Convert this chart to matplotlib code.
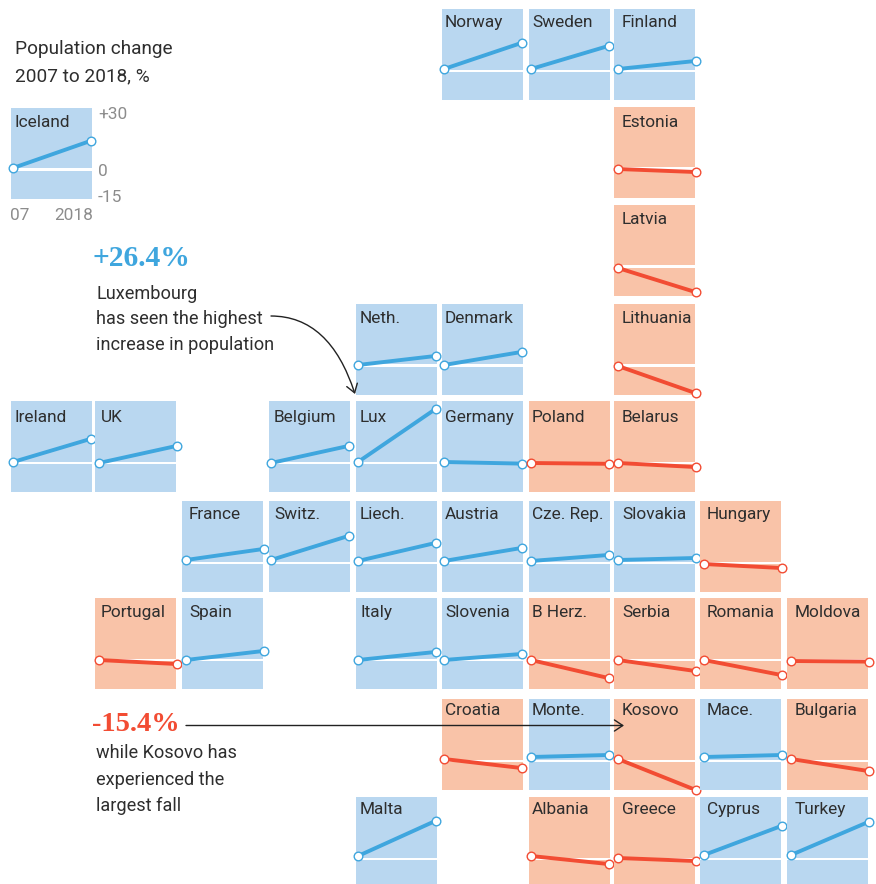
import matplotlib
matplotlib.use("Agg")
import matplotlib.pyplot as plt
from matplotlib.patches import FancyArrowPatch, Rectangle

# Population change 2007 to 2018, %
countries = ["Norway", "Sweden", "Finland", "Estonia", "Latvia", "Lithuania",
             "Neth.", "Denmark", "Ireland", "UK", "Belgium", "Lux", "Germany",
             "Poland", "Belarus", "France", "Switz.", "Liech.", "Austria",
             "Cze. Rep.", "Slovakia", "Hungary", "Portugal", "Spain", "Italy",
             "Slovenia", "B Herz.", "Serbia", "Romania", "Moldova", "Croatia",
             "Monte.", "Kosovo", "Mace.", "Bulgaria", "Malta", "Albania",
             "Greece", "Cyprus", "Turkey"]
change = [13.0, 11.5, 4.0, -1.5, -12.0, -13.5,
          4.5, 6.5, 11.5, 8.5, 8.5, 26.4, -0.8,
          -0.4, -2.0, 5.5, 12.0, 9.0, 6.5,
          3.0, 1.0, -2.0, -2.0, 4.5, 4.0,
          3.0, -9.0, -5.5, -7.5, -0.3, -4.5,
          1.0, -15.4, 1.0, -6.0, 17.5, -4.0,
          -1.5, 14.5, 16.5]
# Germany dips in the line but is still coloured as a riser in the original
falling = ["Estonia", "Latvia", "Lithuania", "Poland", "Belarus", "Hungary",
           "Portugal", "B Herz.", "Serbia", "Romania", "Moldova", "Croatia",
           "Kosovo", "Bulgaria", "Albania", "Greece"]
key_values = [0, 13.5]
years = [2007, 2018]

# layout: tile-grid position of each country
col_left = [11, 95, 182, 269, 356, 442, 529, 614, 700, 787]
row_top = [9, 107, 205, 304, 401, 501, 598, 699, 797]
col_line_dx = [2, 4, 4, 2, 2, 2, 2, 4, 4, 4]
col_label_dx = [4, 6, 7, 5, 4, 3, 3, 8, 7, 8]
row_zero_dy = [60, 62, 63, 62, 61, 59, 62, 60, 59]
row_baseline_dy = [18, 20, 19, 19, 21, 18, 19, 16, 17]
# tiles whose line starts a little off the rest of the row, px
zero_nudge = {"Hungary": 4, "Monte.": -2, "Mace.": -2, "Greece": 2, "Neth.": -1,
              "Denmark": -1, "Poland": 1, "Belarus": 1, "UK": 1, "Belgium": 1,
              "Moldova": 1, "Cze. Rep.": 1, "Liech.": 1, "Austria": 1,
              "Cyprus": -1, "Turkey": -1}
grid = {"Norway": (5, 0), "Sweden": (6, 0), "Finland": (7, 0),
        "Estonia": (7, 1), "Latvia": (7, 2), "Lithuania": (7, 3),
        "Neth.": (4, 3), "Denmark": (5, 3),
        "Ireland": (0, 4), "UK": (1, 4), "Belgium": (3, 4), "Lux": (4, 4),
        "Germany": (5, 4), "Poland": (6, 4), "Belarus": (7, 4),
        "France": (2, 5), "Switz.": (3, 5), "Liech.": (4, 5), "Austria": (5, 5),
        "Cze. Rep.": (6, 5), "Slovakia": (7, 5), "Hungary": (8, 5),
        "Portugal": (1, 6), "Spain": (2, 6), "Italy": (4, 6), "Slovenia": (5, 6),
        "B Herz.": (6, 6), "Serbia": (7, 6), "Romania": (8, 6), "Moldova": (9, 6),
        "Croatia": (5, 7), "Monte.": (6, 7), "Kosovo": (7, 7), "Mace.": (8, 7),
        "Bulgaria": (9, 7), "Malta": (4, 8), "Albania": (6, 8), "Greece": (7, 8),
        "Cyprus": (8, 8), "Turkey": (9, 8)}

W, H = 876, 884
CELL_W, CELL_H = 81, 91
LINE_SPAN = 78       # px between the two points of a tile
PX_PER_PCT = 2.02
BAND_TOP, BAND_H = 60.5, 2.3
BLUE, BLUE_BG = "#3fa6de", "#b9d7f0"
RED, RED_BG = "#f24c33", "#f9c3a8"
DARK, GREY = "#2e2e2e", "#8c8c8c"

plt.rcParams["font.family"] = ["Roboto", "DejaVu Sans"]

fig = plt.figure(figsize=(W / 100, H / 100), dpi=100)
bg = fig.add_axes([0, 0, 1, 1])
bg.set_xlim(0, W)
bg.set_ylim(H, 0)
bg.axis("off")


def draw_tile(name, x, y, value, line_c, bg_c, line_dx, label_dx, zero_dy, base_dy):
    ax = fig.add_axes([x / W, 1 - (y + CELL_H) / H, CELL_W / W, CELL_H / H], zorder=2)
    ax.set_facecolor(bg_c)
    ax.set_xlim(-line_dx / LINE_SPAN, (CELL_W - line_dx) / LINE_SPAN)
    ax.set_ylim(-(CELL_H - zero_dy) / PX_PER_PCT, zero_dy / PX_PER_PCT)
    for s in ax.spines.values():
        s.set_visible(False)
    ax.set_xticks([])
    ax.set_yticks([])
    # white zero band, fixed in the tile
    ax.add_patch(Rectangle((0, 1 - (BAND_TOP + BAND_H) / CELL_H), 1, BAND_H / CELL_H,
                           transform=ax.transAxes, fc="white", lw=0, zorder=1))
    ax.plot([0, 1], [0, value], color=line_c, lw=2.8, solid_capstyle="butt", zorder=2)
    ax.plot([0, 1], [0, value], ls="none", marker="o", ms=6.2, mfc="white", mec=line_c,
            mew=1.0, clip_on=False, zorder=3)
    ax.text(label_dx / CELL_W, 1 - base_dy / CELL_H, name, transform=ax.transAxes,
            fontsize=12.4, color=DARK, va="baseline", ha="left", zorder=4)


for name, value in zip(countries, change):
    c, r = grid[name]
    is_down = name in falling
    draw_tile(name, col_left[c], row_top[r], value,
              RED if is_down else BLUE, RED_BG if is_down else BLUE_BG,
              col_line_dx[c], col_label_dx[c],
              row_zero_dy[r] + zero_nudge.get(name, 0), row_baseline_dy[r])

# key tile
draw_tile("Iceland", 11, 108, key_values[1], BLUE, BLUE_BG, 2, 4, 60, 19)
for y, s in [(119.3, "+30"), (175.7, "0"), (201.7, "-15")]:
    bg.text(98, y, s, fontsize=12.4, color=GREY, va="baseline", ha="left")
bg.text(10, 220, "07", fontsize=12.4, color=GREY, va="baseline", ha="left")
bg.text(93, 220, str(years[1]), fontsize=12.4, color=GREY, va="baseline", ha="right")

bg.text(15, 54, "Population change", fontsize=13.7, color=DARK, va="baseline")
bg.text(15, 81, "2007 to 2018, %", fontsize=13.7, color=DARK, va="baseline")

# annotations
bg.text(92.5, 266, "+26.4%", fontsize=21.3, color=BLUE, fontweight="bold",
        family="Liberation Serif", va="baseline")
for y, s in [(299.3, "Luxembourg"), (324, "has seen the highest"), (350, "increase in population")]:
    bg.text(96, y, s, fontsize=13.1, color=DARK, va="baseline")
bg.text(92, 731, "-15.4%", fontsize=20.5, color=RED, fontweight="bold",
        family="Liberation Serif", va="baseline")
for y, s in [(758.3, "while Kosovo has"), (785, "experienced the"), (810.7, "largest fall")]:
    bg.text(96, y, s, fontsize=13.1, color=DARK, va="baseline")

arrow_kw = dict(arrowstyle="->,head_length=6,head_width=4", color="#222222", lw=1,
                transform=bg.transData, zorder=5, shrinkA=0, shrinkB=0)
fig.add_artist(FancyArrowPatch((271, 316), (355, 394),
                               connectionstyle="angle3,angleA=0,angleB=108", **arrow_kw))
fig.add_artist(FancyArrowPatch((186, 725.5), (624, 725.5), **arrow_kw))

fig.savefig("out.png", dpi=100)
